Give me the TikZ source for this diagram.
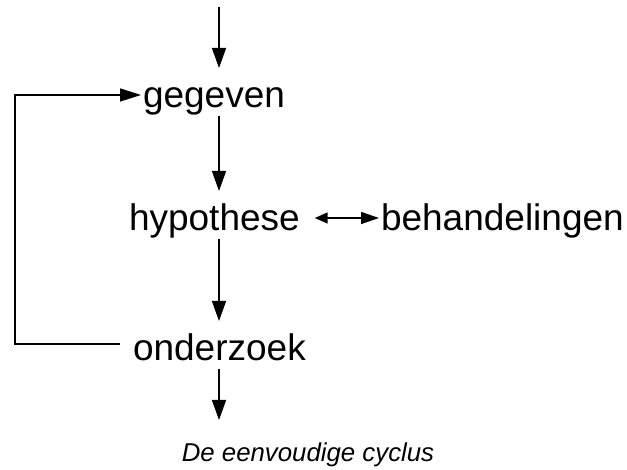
\documentclass[tikz,border=0pt]{standalone}
\usepackage{fontspec}
\setmainfont{Liberation Sans}
\usetikzlibrary{arrows.meta}
\begin{document}
\begin{tikzpicture}[x=1pt,y=1pt,
  lbl/.style={anchor=base west, inner xsep=0pt, inner ysep=0pt, outer xsep=0pt, outer ysep=8pt,
    text height=32pt, text depth=0pt, font=\fontsize{37pt}{44pt}\selectfont},
  captext/.style={anchor=base, inner sep=0pt, font=\fontsize{25.8pt}{30pt}\selectfont\itshape},
  arr/.style={line width=1.5pt, -{Triangle[length=20pt,width=14pt]}},
  fb/.style={line width=1.5pt, -{Triangle[length=21pt,width=13pt]}},
  darr/.style={line width=1.5pt, {Triangle[length=13pt,width=11pt]}-{Triangle[length=18pt,width=12pt]}}
]
\useasboundingbox (0,0) rectangle (627,470);
\coordinate (top) at (219,463);
\coordinate (bot) at (219,50);
\coordinate (c1) at (15,126);
\coordinate (c2) at (15,375);
\node[lbl] (geg) at (143,362) {gegeven};
\node[lbl] (hyp) at (129,239) {hypothese};
\node[lbl] (beh) at (381,239) {behandelingen};
\node[lbl] (ond) at (133,109) {onderzoek};
\node[captext] (caption) at (308,8) {De eenvoudige cyclus};
\draw[arr] (top) -- (top |- geg.north);
\draw[arr] (top |- geg.south) -- (top |- hyp.north);
\draw[arr] (top |- hyp.south) -- (top |- ond.north);
\draw[arr] (top |- ond.south) -- (bot);
\draw[fb, shorten <=13pt] (ond.west |- c1) -- (c1) -- (c2) -- ([xshift=-2pt]geg.west |- c2);
\draw[darr, shorten <=15pt] (hyp.east |- 0,252) -- ([xshift=-2pt]beh.west |- 0,252);
\end{tikzpicture}
\end{document}
